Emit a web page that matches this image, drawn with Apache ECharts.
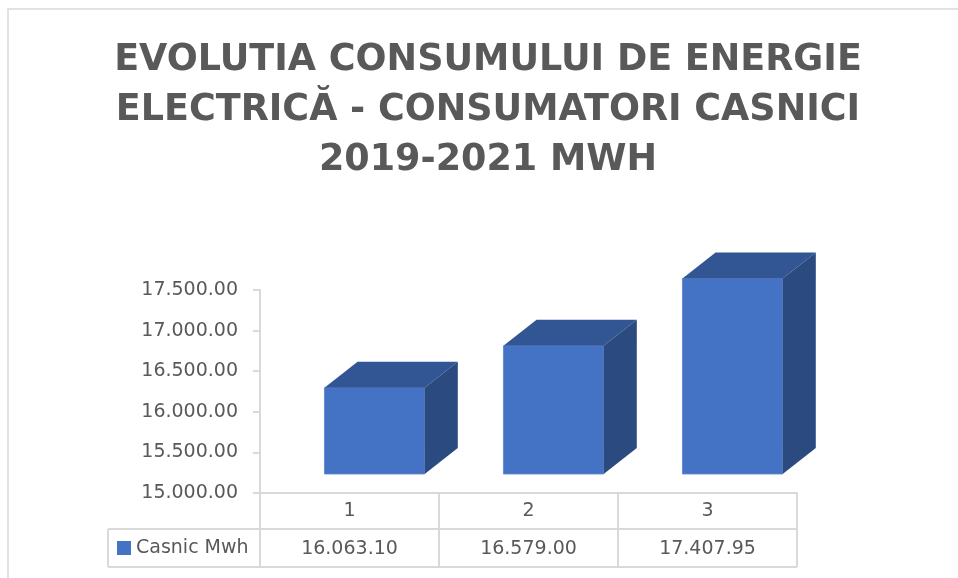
<!DOCTYPE html>
<html>
<head>
<meta charset="utf-8">
<script src="https://cdn.jsdelivr.net/npm/echarts@6/dist/echarts.min.js"></script>
<style>
  html, body { margin: 0; padding: 0; background: #fff; }
  #main { width: 958px; height: 578px; }
</style>
</head>
<body>
<div id="main"></div>
<script>
// date grafic
var titleLines = ['EVOLUTIA CONSUMULUI DE ENERGIE', 'ELECTRICĂ - CONSUMATORI CASNICI', '2019-2021 MWH'];
var categories = ['1', '2', '3'];
var seriesName = 'Casnic Mwh';
var values = [16063.10, 16579.00, 17407.95];
var yTicks = [15000, 15500, 16000, 16500, 17000, 17500];

var textColor = '#595959';
var lineColor = '#d9d9d9';
var fontFam = '"DejaVu Sans"';

// 17500 -> "17.500.00"
function fmt(v) {
    var parts = Number(v).toFixed(2).split('.');
    var ip = parts[0].replace(/\B(?=(\d{3})+(?!\d))/g, '.');
    return ip + '.' + parts[1];
}

var points = values.map(function(v, i) { return [i, v]; });

// coloane 3D
function renderBar(params, api) {
    var i = api.value(0), v = api.value(1);
    var top = api.coord([i, v]);
    var base = api.coord([i, yTicks[0]]);
    var band = api.size([1, 0])[0];
    var w = band * 0.56, shift = band * 0.14, dx = band * 0.185, dy = 26, lift = 19;
    var x0 = top[0] + shift - w / 2, x1 = x0 + w;
    var yT = top[1] - lift, yB = base[1] - lift;
    return {
        type: 'group',
        children: [{
            type: 'polygon',
            shape: { points: [[x0, yB], [x1, yB], [x1, yT], [x0, yT]] },
            style: { fill: '#4472C4', stroke: '#5a84cf', lineWidth: 0.8 }
        }, {
            type: 'polygon',
            shape: { points: [[x0, yT], [x1, yT], [x1 + dx, yT - dy], [x0 + dx, yT - dy]] },
            style: { fill: '#325594' }
        }, {
            type: 'polygon',
            shape: { points: [[x1, yB], [x1 + dx, yB - dy], [x1 + dx, yT - dy], [x1, yT]] },
            style: { fill: '#2B4A80' }
        }]
    };
}

// tabel de date sub axa
function renderTable(params, api) {
    var i = api.value(0);
    var c = api.coord([i, yTicks[0]]);
    var band = api.size([1, 0])[0];
    var xl = c[0] - band / 2, xr = c[0] + band / 2, y0 = c[1];
    var r1 = 36, r2 = 74, head = 152;
    var ls = { stroke: lineColor, lineWidth: 2 };
    var children = [
        { type: 'line', shape: { x1: xl, y1: y0, x2: xl, y2: y0 + r2 }, style: ls },
        { type: 'line', shape: { x1: xl, y1: y0 + r1, x2: xr, y2: y0 + r1 }, style: ls },
        { type: 'line', shape: { x1: xl, y1: y0 + r2, x2: xr, y2: y0 + r2 }, style: ls },
        {
            type: 'text',
            style: {
                text: fmt(api.value(1)), x: c[0], y: y0 + (r1 + r2) / 2 + 1,
                align: 'center', verticalAlign: 'middle',
                fill: textColor, font: '19px ' + fontFam
            }
        }
    ];
    if (i === categories.length - 1) {
        children.push({ type: 'line', shape: { x1: xr, y1: y0, x2: xr, y2: y0 + r2 }, style: ls });
    }
    if (i === 0) {
        children.push({ type: 'line', shape: { x1: xl - head, y1: y0 + r1, x2: xl - head, y2: y0 + r2 }, style: ls });
        children.push({ type: 'line', shape: { x1: xl - head, y1: y0 + r1, x2: xl, y2: y0 + r1 }, style: ls });
        children.push({ type: 'line', shape: { x1: xl - head, y1: y0 + r2, x2: xl, y2: y0 + r2 }, style: ls });
    }
    return { type: 'group', children: children };
}

var myChart = echarts.init(document.getElementById('main'));
var option = {
    animation: false,
    backgroundColor: '#fff',
    title: {
        text: titleLines.join('\n'),
        left: 483,
        top: 31,
        textAlign: 'center',
        textStyle: {
            fontFamily: fontFam,
            fontSize: 36.5,
            fontWeight: 'bold',
            color: textColor,
            lineHeight: 50
        }
    },
    legend: {
        data: [seriesName],
        left: 117,
        top: 538,
        padding: 0,
        icon: 'rect',
        itemWidth: 14,
        itemHeight: 14,
        itemGap: 5,
        selectedMode: false,
        textStyle: { fontFamily: fontFam, fontSize: 19, color: textColor, lineHeight: 20 }
    },
    graphic: [{
        type: 'rect',
        silent: true,
        z: -10,
        shape: { x: 8, y: 9, width: 980, height: 600 },
        style: { fill: 'none', stroke: lineColor, lineWidth: 1.5 }
    }],
    grid: {
        left: 260,
        right: 161,
        top: 290,
        bottom: 85,
        containLabel: false,
        outerBoundsMode: 'none'
    },
    xAxis: {
        type: 'category',
        data: categories,
        axisLine: { show: true, lineStyle: { color: lineColor, width: 2 } },
        axisTick: { show: false },
        splitLine: { show: false },
        axisLabel: { margin: 9, fontFamily: fontFam, fontSize: 19, color: textColor }
    },
    yAxis: {
        type: 'value',
        min: yTicks[0],
        max: yTicks[yTicks.length - 1],
        interval: yTicks[1] - yTicks[0],
        axisLine: { show: true, lineStyle: { color: lineColor, width: 2 } },
        axisTick: { show: true, length: 7, lineStyle: { color: lineColor, width: 2 } },
        splitLine: { show: false },
        axisLabel: {
            margin: 22,
            fontFamily: fontFam,
            fontSize: 19,
            color: textColor,
            formatter: fmt
        }
    },
    series: [{
        name: seriesName,
        type: 'custom',
        renderItem: renderBar,
        itemStyle: { color: '#4472C4' },
        data: points,
        clip: false,
        z: 3
    }, {
        name: 'table',
        type: 'custom',
        renderItem: renderTable,
        data: points,
        clip: false,
        silent: true,
        z: 2
    }]
};
myChart.setOption(option);
</script>
</body>
</html>
